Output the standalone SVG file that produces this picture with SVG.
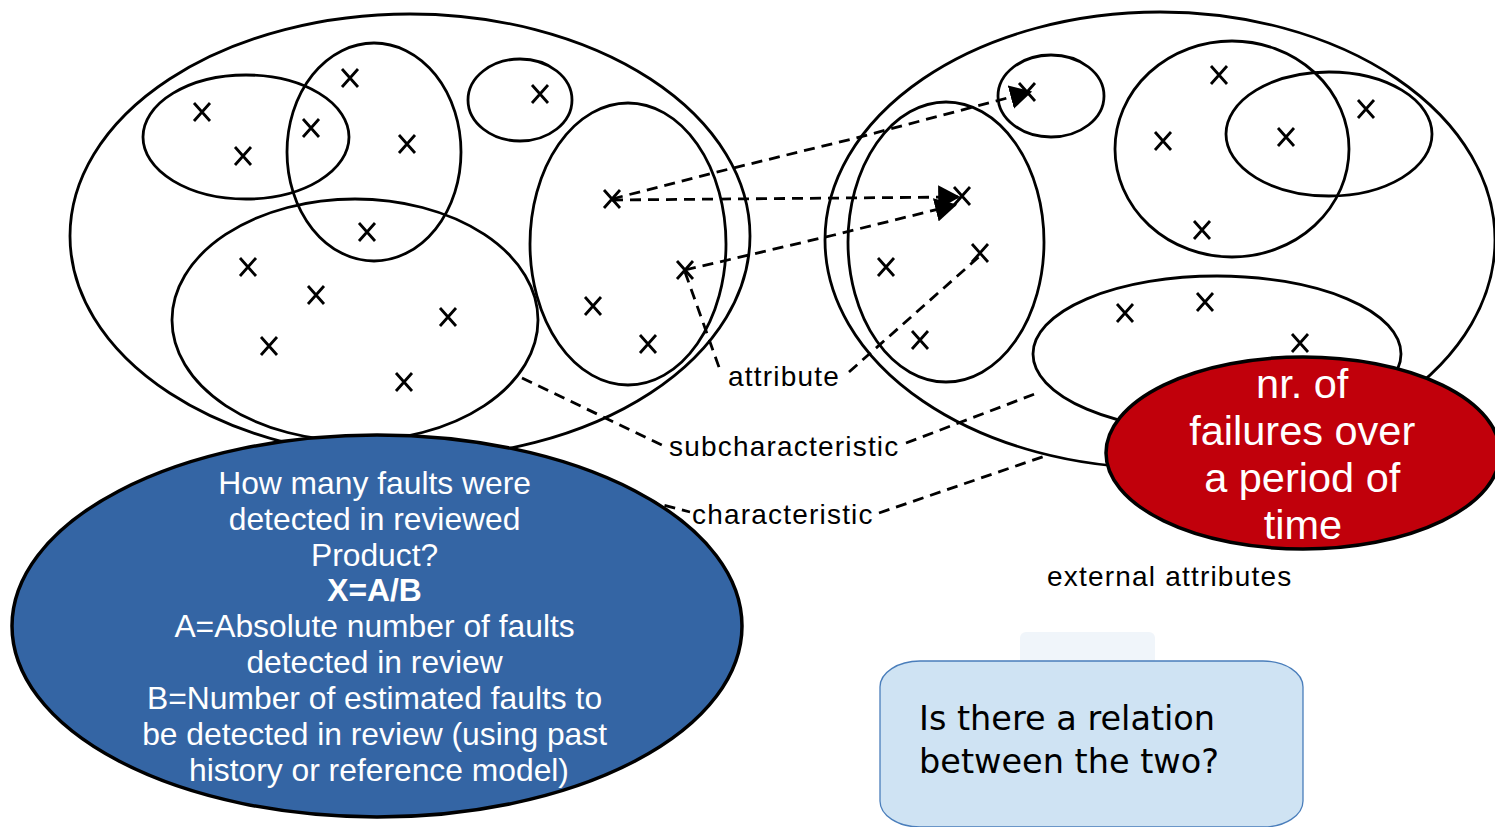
<svg xmlns="http://www.w3.org/2000/svg" width="1495" height="827" viewBox="0 0 1495 827">
<defs>
<style>
.set{fill:none;stroke:#000;stroke-width:2.8}
.dash{fill:none;stroke:#000;stroke-width:2.8;stroke-dasharray:11 7}
.lbl{font-family:"Liberation Sans",Arial,sans-serif;font-size:28px;letter-spacing:1.2px;fill:#000}
.wt{font-family:"Liberation Sans",Arial,sans-serif;fill:#fff;text-anchor:middle}
</style>
<path id="x" d="M-8,-9 L8,9 M8,-9 L-8,9" fill="none" stroke="#000" stroke-width="2.8"/>
<marker id="ahb" markerWidth="22" markerHeight="24" viewBox="0 0 10 10" refX="9" refY="5" orient="auto" markerUnits="userSpaceOnUse" preserveAspectRatio="none">
<path d="M0,0 L10,5 L0,10 Z" fill="#000"/>
</marker>
</defs>
<rect width="1495" height="827" fill="#fff"/>

<g id="internal-attributes">
<ellipse class="set" cx="410" cy="236" rx="340" ry="222"/>
<ellipse class="set" cx="246" cy="137" rx="103" ry="62"/>
<ellipse class="set" cx="374" cy="152" rx="87" ry="109"/>
<ellipse class="set" cx="520" cy="100" rx="52" ry="41"/>
<ellipse class="set" cx="355" cy="320" rx="183" ry="121"/>
<ellipse class="set" cx="628" cy="244" rx="98" ry="141"/>
<use href="#x" x="202" y="112"/><use href="#x" x="243" y="156"/><use href="#x" x="311" y="128"/>
<use href="#x" x="350" y="78"/><use href="#x" x="407" y="144"/><use href="#x" x="367" y="232"/>
<use href="#x" x="540" y="94"/><use href="#x" x="248" y="267"/><use href="#x" x="316" y="295"/>
<use href="#x" x="448" y="317"/><use href="#x" x="269" y="346"/><use href="#x" x="404" y="382"/>
<use href="#x" x="612" y="199"/><use href="#x" x="685" y="270"/><use href="#x" x="593" y="306"/>
<use href="#x" x="648" y="344"/>
</g>

<g id="external-attributes">
<ellipse class="set" cx="1160" cy="240" rx="335" ry="228"/>
<ellipse class="set" cx="946" cy="242" rx="98" ry="140"/>
<ellipse class="set" cx="1051" cy="96" rx="53" ry="41"/>
<ellipse class="set" cx="1232" cy="149" rx="117" ry="108"/>
<ellipse class="set" cx="1329" cy="134" rx="103" ry="62"/>
<ellipse class="set" cx="1217" cy="354" rx="184" ry="78"/>
<use href="#x" x="1027" y="92"/><use href="#x" x="962" y="196"/><use href="#x" x="980" y="253"/>
<use href="#x" x="886" y="267"/><use href="#x" x="920" y="340"/>
<use href="#x" x="1219" y="75"/><use href="#x" x="1163" y="141"/><use href="#x" x="1286" y="137"/>
<use href="#x" x="1366" y="109"/><use href="#x" x="1202" y="230"/>
<use href="#x" x="1125" y="313"/><use href="#x" x="1205" y="302"/><use href="#x" x="1300" y="343"/>
<text class="lbl" x="1047" y="586">external attributes</text>
</g>

<g id="connectors">
<path class="dash" d="M612,199 L713,173 L856,138 L1030,92" marker-end="url(#ahb)"/>
<path class="dash" d="M612,200 L958,197" marker-end="url(#ahb)"/>
<path class="dash" d="M685,270 L834,235 L955,205" marker-end="url(#ahb)"/>
<path class="dash" d="M685,272 L720,370"/>
<path class="dash" d="M849,372 L981,255"/>
<path class="dash" d="M522,378 L666,447"/>
<path class="dash" d="M906,443 L1040,392"/>
<path class="dash" d="M560,478 L690,512"/>
<path class="dash" d="M879,513 L1048,455"/>
</g>

<g id="labels">
<text class="lbl" x="728" y="386">attribute</text>
<text class="lbl" x="669" y="456">subcharacteristic</text>
<text class="lbl" x="692" y="524">characteristic</text>
</g>

<g id="question-node">
<ellipse cx="377" cy="626" rx="365" ry="191" fill="#3465a4" stroke="#000" stroke-width="3.5"/>
<text class="wt" font-size="31.8">
<tspan x="379" y="494">How many faults were</tspan>
<tspan x="379" y="530">detected in reviewed</tspan>
<tspan x="379" y="566">Product?</tspan>
<tspan x="379" y="601" font-weight="bold">X=A/B</tspan>
<tspan x="379" y="637">A=Absolute number of faults</tspan>
<tspan x="379" y="673">detected in review</tspan>
<tspan x="379" y="709">B=Number of estimated faults to</tspan>
<tspan x="379" y="745">be detected in review (using past</tspan>
<tspan x="379" y="781">history or reference model)</tspan>
</text>
</g>

<g id="failures-node">
<ellipse cx="1303" cy="453" rx="197" ry="96" fill="#c1000b" stroke="#000" stroke-width="3.5"/>
<text class="wt" font-size="41.5">
<tspan x="1308" y="398">nr. of</tspan>
<tspan x="1308" y="445">failures over</tspan>
<tspan x="1308" y="492">a period of</tspan>
<tspan x="1303" y="539">time</tspan>
</text>
</g>

<g id="relation-node">
<rect x="1020" y="632" width="135" height="40" rx="6" fill="#f0f5fa"/>
<rect x="880" y="661" width="423" height="166" rx="40" ry="26" fill="#cfe3f3" stroke="#4a7ebb" stroke-width="1.3"/>
<text font-family="DejaVu Sans,sans-serif" font-size="33.5" fill="#000">
<tspan x="919" y="730">Is there a relation</tspan>
<tspan x="919" y="773">between the two?</tspan>
</text>
</g>
</svg>
